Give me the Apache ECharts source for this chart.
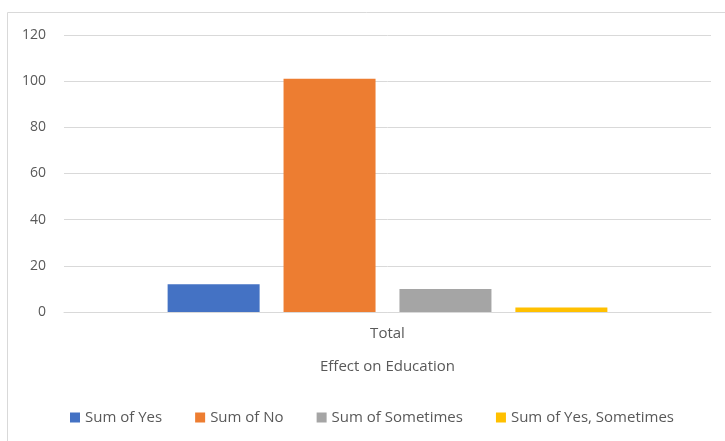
<!DOCTYPE html>
<html>
<head>
  <meta charset="UTF-8">
  <title>Effect on Education</title>
  <style>
    html, body { margin: 0; padding: 0; background: #fff; }
    #chart { width: 725px; height: 441px; }
  </style>
</head>
<body>
  <div id="chart"></div>
  <script src="https://cdn.jsdelivr.net/npm/echarts@6/dist/echarts.min.js"></script>
  <script>
    // data
    const categories = ['Total'];
    const seriesNames = ['Sum of Yes', 'Sum of No', 'Sum of Sometimes', 'Sum of Yes, Sometimes'];
    const seriesValues = [[12], [101], [10], [2]];
    const colors = ['#4472C4', '#ED7D31', '#A5A5A5', '#FFC000'];

    const font = '"Open Sans", sans-serif';
    const chart = echarts.init(document.getElementById('chart'));

    const series = seriesNames.map((name, i) => ({
      name: name,
      type: 'bar',
      data: seriesValues[i],
      barWidth: 92,
      barGap: '26%',
      itemStyle: { color: colors[i] },
      emphasis: { disabled: true }
    }));

    chart.setOption({
      animation: false,
      color: colors,
      textStyle: { fontFamily: font },
      graphic: [{
        type: 'rect',
        shape: { x: 7.5, y: 12.5, width: 800, height: 500 },
        style: { fill: 'none', stroke: '#d9d9d9', lineWidth: 1 },
        silent: true
      }],
      grid: { left: 64, right: 14, top: 35, bottom: 129 },
      legend: {
        bottom: 11,
        left: 65,
        itemWidth: 10,
        itemHeight: 10,
        itemGap: 33,
        icon: 'rect',
        textStyle: { color: '#595959', fontSize: 15, fontFamily: font },
        data: seriesNames
      },
      xAxis: {
        type: 'category',
        data: categories,
        name: 'Effect on Education',
        nameLocation: 'middle',
        nameGap: 47,
        nameTextStyle: { color: '#595959', fontSize: 15, fontFamily: font },
        axisLine: { lineStyle: { color: '#d9d9d9' } },
        axisTick: { show: false },
        axisLabel: { color: '#595959', fontSize: 15, margin: 14, fontFamily: font }
      },
      yAxis: {
        type: 'value',
        min: 0,
        max: 120,
        interval: 20,
        axisLine: { show: false },
        axisTick: { show: false },
        axisLabel: { color: '#595959', fontSize: 14, margin: 18, fontFamily: font },
        splitLine: { lineStyle: { color: '#d9d9d9' } }
      },
      series: series
    });
  </script>
</body>
</html>
